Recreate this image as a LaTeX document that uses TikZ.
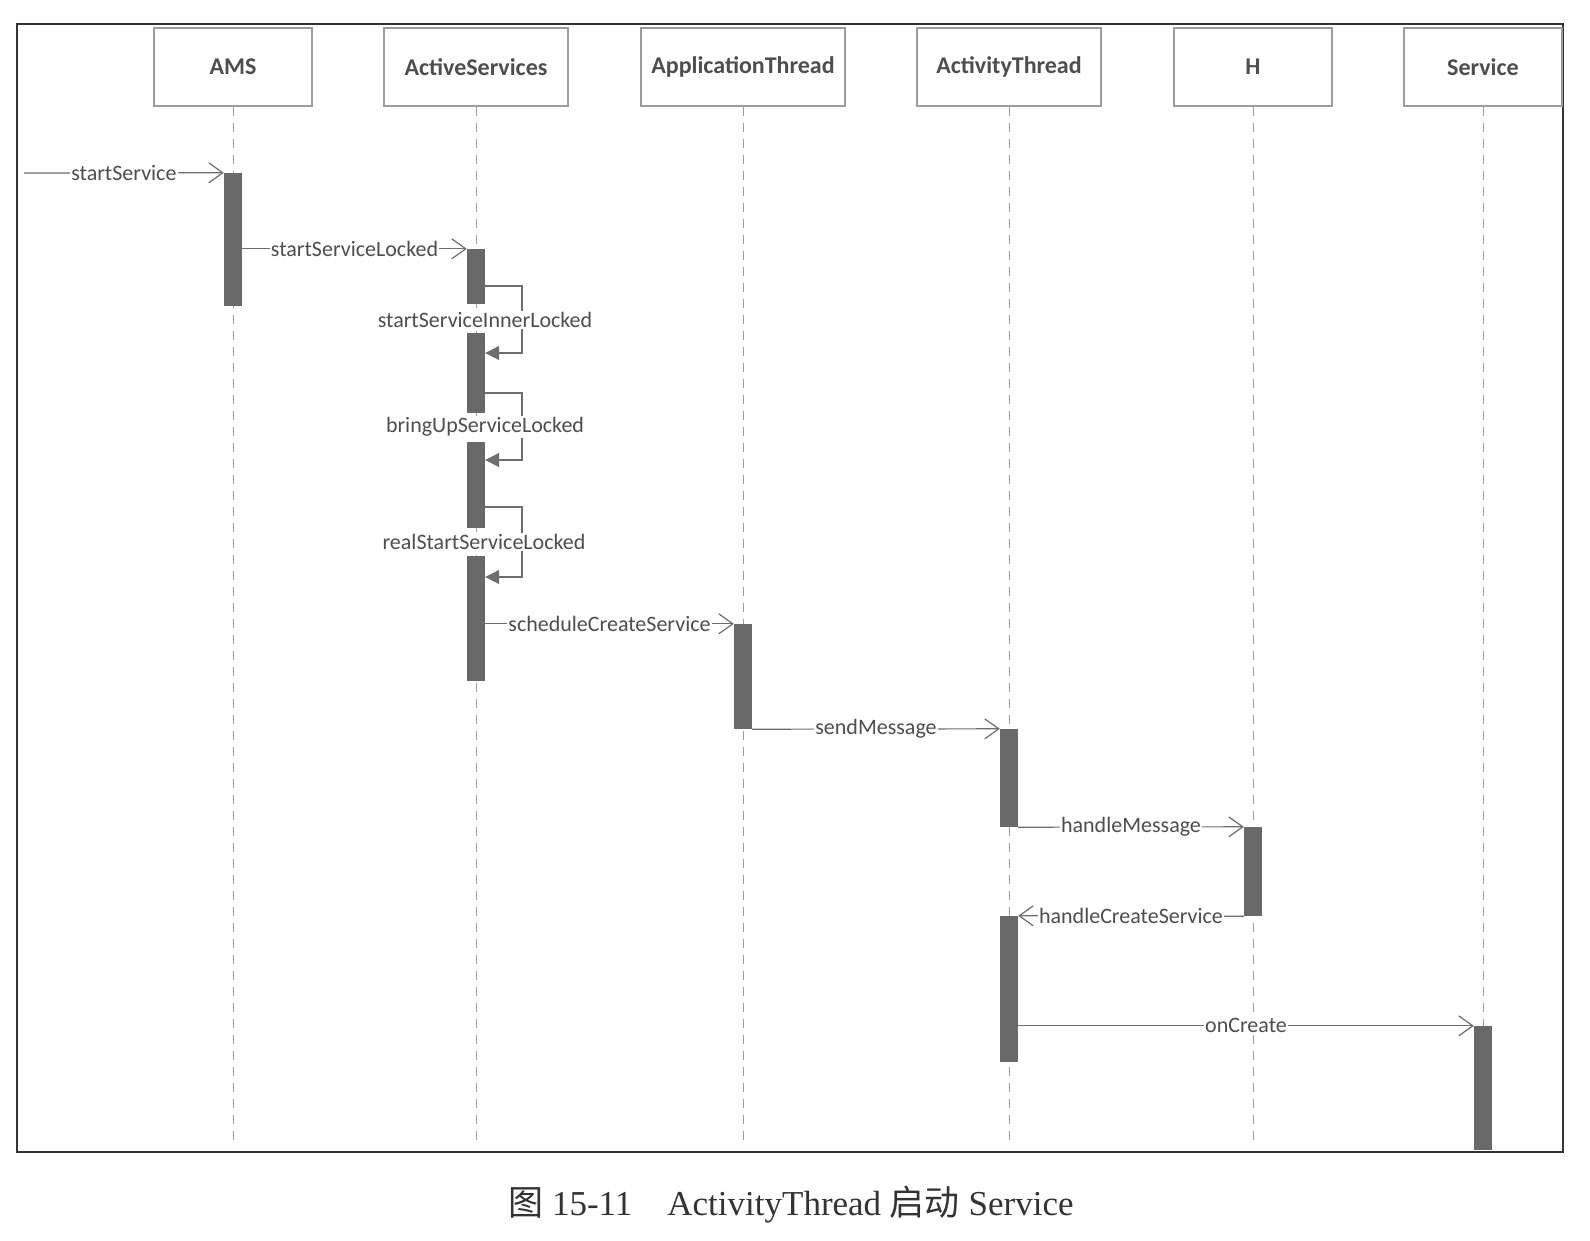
\documentclass[tikz,border=0pt]{standalone}
\usepackage{fontspec}
\setmainfont{Carlito}
\newfontfamily\capfont{Liberation Serif}
\newfontfamily\cjk{Noto Sans CJK SC}
\usetikzlibrary{arrows.meta}
\definecolor{linegray}{HTML}{6E6E6E}
\definecolor{bargray}{HTML}{696969}
\definecolor{txtgray}{HTML}{4E4E4E}
\definecolor{boxgray}{HTML}{9C9C9C}
\definecolor{framegray}{HTML}{333333}
\tikzset{
  head/.style={draw=boxgray, line width=1.3pt, minimum height=78pt, text=txtgray,
    font=\fontsize{24}{28}\selectfont\bfseries},
  life/.style={draw=boxgray, line width=1pt, dash pattern=on 9pt off 7pt},
  actbar/.style={fill=bargray, draw=none, minimum width=18pt, inner sep=0pt},
  msg/.style={draw=linegray, line width=1.2pt,
    -{Straight Barb[length=14pt,width=20pt,line width=1.2pt]}},
  selfcall/.style={draw=linegray, line width=1.2pt, -{Triangle[length=14pt,width=14pt]}},
  lbl/.style={fill=white, inner sep=1pt, text=txtgray, font=\fontsize{22}{26}\selectfont},
}
\begin{document}
\begin{tikzpicture}[x=1pt,y=-1pt]
    \useasboundingbox (0,0) rectangle (1590,1240);
    \fill[white] (0,0) rectangle (1590,1240);
    % frame
    \draw[framegray, line width=2.4pt] (17,24) rectangle (1563,1152);
    % lifeline heads
    \node[head, minimum width=158pt] (ams) at (233,67) {AMS};
    \node[head, minimum width=184pt] (as) at (476,67) {ActiveServices};
    \node[head, minimum width=204pt] (apt) at (743,67) {ApplicationThread};
    \node[head, minimum width=184pt] (act) at (1009,67) {ActivityThread};
    \node[head, minimum width=158pt] (h) at (1253,67) {H};
    \node[head, minimum width=158pt] (svc) at (1483,67) {Service};
    \foreach \n in {ams,as,apt,act,h,svc}
        \draw[life] (\n.south) -- (\n.south |- 0,1145);
    % activation bars
    \node[actbar, minimum height=133pt] (ams1) at (233,239.5) {};
    \node[actbar, minimum height=55pt] (as1) at (476,276.5) {};
    \node[actbar, minimum height=80pt] (as2) at (476,373) {};
    \node[actbar, minimum height=86pt] (as3) at (476,485) {};
    \node[actbar, minimum height=125pt] (as4) at (476,618.5) {};
    \node[actbar, minimum height=105pt] (apt1) at (743,676.5) {};
    \node[actbar, minimum height=98pt] (act1) at (1009,778) {};
    \node[actbar, minimum height=146pt] (act2) at (1009,989) {};
    \node[actbar, minimum height=89pt] (h1) at (1253,871.5) {};
    \node[actbar, minimum height=124pt] (svc1) at (1483,1088) {};
    % messages
    \coordinate (caller) at (24,173);
    \draw[msg] (caller) -- node[lbl]{startService} (ams1.north west);
    \draw[msg] (as1.north west -| ams1.east) -- node[lbl]{startServiceLocked} (as1.north west);
    \draw[selfcall] (as1.east |- 0,286) -- (522,286) -- (522,353) -- (as2.east |- 0,353);
    \draw[selfcall] (as2.east |- 0,393) -- (522,393) -- (522,460) -- (as3.east |- 0,460);
    \draw[selfcall] (as3.east |- 0,507) -- (522,507) -- (522,577) -- (as4.east |- 0,577);
    \node[lbl] (l1) at (485,320) {startServiceInnerLocked};
    \node[lbl] (l2) at (485,427) {bringUpServiceLocked};
    \node[lbl] (l3) at (484,542) {realStartServiceLocked};
    \draw[msg] (apt1.north west -| as4.east) -- node[lbl]{scheduleCreateService} (apt1.north west);
    \draw[msg] (apt1.south east) -- node[lbl]{sendMessage} (act1.north west);
    \draw[msg] (act1.south east) -- node[lbl]{handleMessage} (h1.north west);
    \draw[msg] (h1.south west) -- node[lbl]{handleCreateService} (act2.north east);
    \draw[msg] (svc1.north west -| act2.east) -- node[lbl]{onCreate} (svc1.north west);
    % caption
    \node[font=\capfont\fontsize{35}{40}\selectfont, text=black!80] (cap) at (791,1205)
        {{\cjk 图}~15-11\quad ActivityThread~{\cjk 启动}~Service};
\end{tikzpicture}
\end{document}
